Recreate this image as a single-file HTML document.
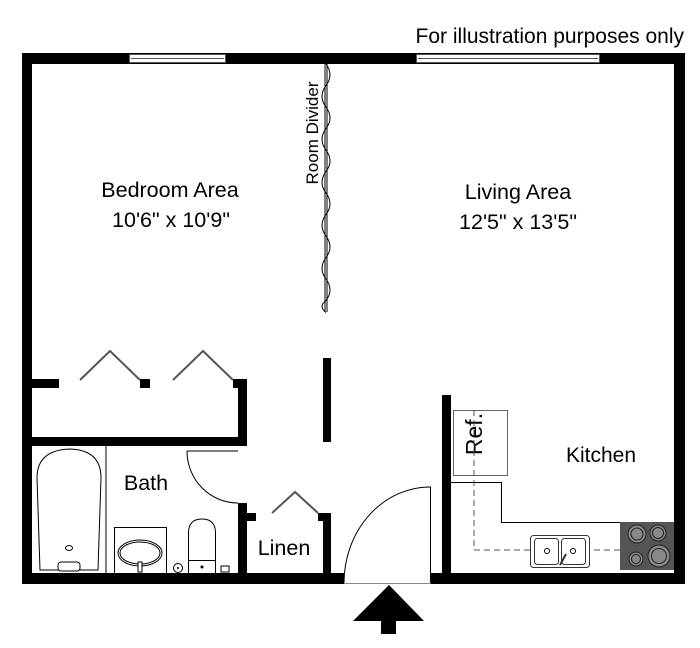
<!DOCTYPE html>
<html><head><meta charset="utf-8"><style>
html,body{margin:0;padding:0;background:#fff;}
svg{display:block;}
text{font-family:"Liberation Sans",sans-serif;fill:#000;}
</style></head><body>
<svg width="700" height="648" viewBox="0 0 700 648" xmlns="http://www.w3.org/2000/svg">
<rect width="700" height="648" fill="#fff"/>
<text x="684" y="43" font-size="21" text-anchor="end">For illustration purposes only</text>
<!-- outer walls -->
<rect x="22" y="53" width="663" height="11" fill="#000"/>
<rect x="22" y="53" width="10" height="531" fill="#000"/>
<rect x="674" y="53" width="11" height="531" fill="#000"/>
<rect x="22" y="573" width="322" height="11" fill="#000"/>
<rect x="431" y="573" width="254" height="11" fill="#000"/>
<line x1="344" y1="583.5" x2="431" y2="583.5" stroke="#888" stroke-width="1"/>
<!-- windows -->
<g fill="#fff" stroke="#555" stroke-width="1">
<rect x="129.5" y="54.5" width="96" height="8"/>
<line x1="131" y1="58.5" x2="224" y2="58.5"/>
<rect x="416.5" y="54.5" width="183" height="8"/>
<line x1="418" y1="58.5" x2="598" y2="58.5"/>
</g>
<!-- room divider -->
<line x1="325" y1="64" x2="325" y2="312" stroke="#000" stroke-width="1"/>
<line x1="327" y1="64" x2="327" y2="312" stroke="#000" stroke-width="1"/>
<path d="M326 64 q8 11 0 21.5 q-8 11 0 21.5 q8 11 0 21.5 q-8 11 0 21.5 q8 11 0 21.5 q-8 11 0 21.5 q8 11 0 21.5 q-8 11 0 21.5 q8 11 0 21.5 q-8 11 0 21.5 q8 11 0 21.5 q-8 6 0 12" fill="none" stroke="#000" stroke-width="1"/>
<text transform="translate(318,133) rotate(-90)" font-size="17" text-anchor="middle">Room Divider</text>
<!-- room labels -->
<text x="170" y="197" font-size="21.5" text-anchor="middle">Bedroom Area</text>
<text x="171" y="227" font-size="21.5" text-anchor="middle">10'6" x 10'9"</text>
<text x="518" y="199" font-size="21.5" text-anchor="middle">Living Area</text>
<text x="518" y="229" font-size="21.5" text-anchor="middle">12'5" x 13'5"</text>
<text x="601" y="462" font-size="21" text-anchor="middle">Kitchen</text>
<text x="146" y="490" font-size="21.5" text-anchor="middle">Bath</text>
<text x="284" y="555" font-size="21.5" text-anchor="middle">Linen</text>
<!-- center wall piece -->
<rect x="323" y="358" width="8" height="84" fill="#000"/>
<!-- closet -->
<rect x="32" y="379" width="27" height="9" fill="#000"/>
<rect x="140" y="379" width="10" height="9" fill="#000"/>
<rect x="233" y="379" width="14" height="9" fill="#000"/>
<rect x="238" y="379" width="9" height="67" fill="#000"/>
<rect x="32" y="437" width="215" height="9" fill="#000"/>
<g fill="none" stroke="#555" stroke-width="2">
<polyline points="80,380 110,351 140,380"/>
<polyline points="173,380 203,351 233,380"/>
<polyline points="272,513 295,492 318,513"/>
</g>
<!-- bath walls -->
<rect x="238" y="503" width="9" height="70" fill="#000"/>
<rect x="247" y="513" width="9" height="8" fill="#000"/>
<rect x="318" y="513" width="13" height="8" fill="#000"/>
<rect x="323" y="513" width="8" height="60" fill="#000"/>
<!-- bath door -->
<path d="M187 451 L238 451 M187 451 A51 52 0 0 0 238 503" fill="none" stroke="#000" stroke-width="1"/>
<!-- tub -->
<line x1="106" y1="446" x2="106" y2="573" stroke="#000" stroke-width="1"/>
<path d="M40 570 L37 478 Q37 450 70 449 Q101 450 101 478 L98 570 Z" fill="none" stroke="#000" stroke-width="1"/>
<ellipse cx="69" cy="548" rx="3.5" ry="2.5" fill="none" stroke="#000"/>
<rect x="58" y="562" width="22" height="9" rx="3" fill="#fff" stroke="#000"/>
<!-- sink -->
<rect x="114.5" y="527.5" width="52" height="46" fill="none" stroke="#000"/>
<ellipse cx="140" cy="553" rx="22" ry="13" fill="none" stroke="#000"/>
<ellipse cx="140" cy="553" rx="20" ry="11" fill="none" stroke="#000"/>
<rect x="138" y="562" width="4" height="10" fill="#fff" stroke="#000"/>
<!-- toilet -->
<path d="M188.5 560 L188.5 533 Q188.5 519 202 519 Q215.5 519 215.5 533 L215.5 560" fill="none" stroke="#000"/>
<rect x="188.5" y="560.5" width="27" height="13" fill="none" stroke="#000"/>
<circle cx="202" cy="567" r="1.5" fill="#000"/>
<circle cx="178" cy="568" r="4.5" fill="none" stroke="#000"/>
<circle cx="178" cy="568" r="1" fill="#000"/>
<rect x="221" y="566" width="8" height="6" fill="none" stroke="#000"/>
<!-- entry door -->
<path d="M430.5 583 L430.5 487 A86 96 0 0 0 344 583" fill="none" stroke="#000" stroke-width="1"/>
<!-- arrow -->
<polygon points="389,585 353,621 424,621" fill="#000"/>
<rect x="381" y="620" width="15" height="14" fill="#000"/>
<!-- kitchen -->
<rect x="442" y="395" width="9" height="188" fill="#000"/>
<rect x="453.5" y="410.5" width="54" height="65" fill="#fff" stroke="#666"/>
<text transform="translate(482,434) rotate(-90)" font-size="23" text-anchor="middle">Ref.</text>
<polyline points="451,482.5 501.5,482.5 501.5,522.5 620,522.5" fill="none" stroke="#000"/>
<path d="M474 410 V550 H660" fill="none" stroke="#555" stroke-dasharray="6,4"/>
<rect x="620" y="522" width="54" height="48" fill="#555"/>
<g fill="#888" stroke="#222">
<circle cx="637" cy="534" r="9"/><circle cx="637" cy="534" r="6"/>
<circle cx="658" cy="533" r="8"/><circle cx="658" cy="533" r="5.5"/>
<circle cx="636" cy="559" r="7"/><circle cx="636" cy="559" r="4.5"/>
<circle cx="659" cy="556" r="11"/><circle cx="659" cy="556" r="7.5"/>
</g>
<rect x="530.5" y="535.5" width="59" height="32" rx="3" fill="#fff" stroke="#333"/>
<rect x="534.5" y="538.5" width="24" height="26" rx="3" fill="none" stroke="#333"/>
<rect x="561.5" y="538.5" width="24" height="26" rx="3" fill="none" stroke="#333"/>
<circle cx="547" cy="551" r="2.5" fill="none" stroke="#000"/>
<circle cx="573" cy="551" r="2.5" fill="none" stroke="#000"/>
<line x1="560" y1="565" x2="566" y2="554" stroke="#333" stroke-width="2"/>
</svg>
</body></html>
